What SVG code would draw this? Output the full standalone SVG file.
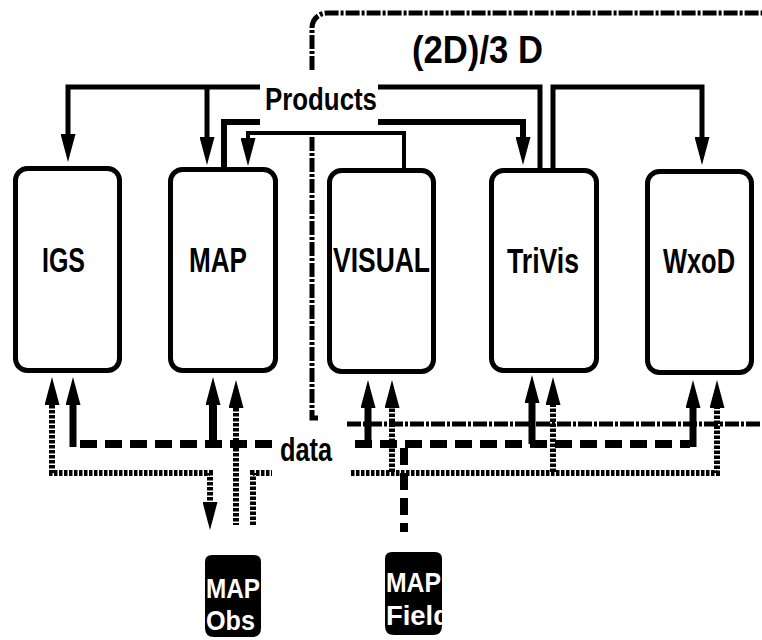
<svg xmlns="http://www.w3.org/2000/svg" width="762" height="640" viewBox="0 0 762 640">
<style>
.box{fill:#fff;stroke:#000;stroke-width:5}
.lbl{font-family:"Liberation Sans",Arial,sans-serif;font-weight:bold;fill:#000}
.wl{font-family:"Liberation Sans",Arial,sans-serif;font-weight:bold;fill:#fff}
.ln{fill:none;stroke:#000;stroke-linejoin:miter}
.dash{fill:none;stroke:#000;stroke-width:8;stroke-dasharray:17 8}
.dot{fill:none;stroke:#000;stroke-width:6;stroke-dasharray:3.5 1.5}
.dd{fill:none;stroke:#000;stroke-width:5;stroke-dasharray:14 2 3 2}
</style>
<defs>
<marker id="ah" viewBox="0 0 28 15" refX="0" refY="7.5" markerWidth="28" markerHeight="15" markerUnits="userSpaceOnUse" orient="auto-start-reverse">
<path d="M0,0 L28,7.5 L0,15 Z" fill="#000"/>
</marker>
<clipPath id="cf"><path d="M385,559 Q385,552 392,552 H435 Q442,552 442,559 V626 Q442,635 433,635 H394 Q385,635 385,626 Z"/></clipPath>
</defs>

<g id="connectors">
<!-- dash-dot region -->
<path class="dd" d="M312,70 V28 A15,15 0 0 1 327,13 H762"/>
<path class="dd" d="M312,137 V418 h6"/>
<path class="dd" d="M347,424 H762"/>
<!-- products -->
<path class="ln" stroke-width="5" d="M540,168 V87 H68 V134" marker-end="url(#ah)"/>
<path class="ln" stroke-width="5" d="M207,87 V137" marker-end="url(#ah)"/>
<path class="ln" stroke-width="6" d="M224,167 V122 H523 V137" marker-end="url(#ah)"/>
<path class="ln" stroke-width="4" d="M404,168 V133 H248 V138" marker-end="url(#ah)"/>
<path class="ln" stroke-width="5" d="M553,168 V87 H702 V137" marker-end="url(#ah)"/>
<!-- data: solid stems -->
<path class="ln" stroke-width="7" d="M73,447 V405" marker-end="url(#ah)"/>
<path class="ln" stroke-width="8" d="M213,444 V405" marker-end="url(#ah)"/>
<path class="ln" stroke-width="7" d="M368,444 V408" marker-end="url(#ah)"/>
<path class="ln" stroke-width="7" d="M532,444 V403" marker-end="url(#ah)"/>
<path class="ln" stroke-width="7" d="M693,447 V408" marker-end="url(#ah)"/>
<!-- dashed bus -->
<path class="dash" d="M80,444 H690"/>
<path class="dash" stroke-width="7" d="M404,448 V532"/>
<!-- dotted -->
<path class="dot" d="M52,405 V473 H210 V502" marker-start="url(#ah)" marker-end="url(#ah)"/>
<path class="dot" d="M236,408 V525" marker-start="url(#ah)"/>
<path class="dot" d="M253,525 V473 H717 V408" marker-end="url(#ah)"/>
<path class="dot" d="M392,472 V408" marker-end="url(#ah)"/>
<path class="dot" d="M553,472 V405" marker-end="url(#ah)"/>
</g>

<g id="products-label">
<rect x="260" y="74" width="118" height="54" fill="#fff"/>
<text class="lbl" x="265" y="110" font-size="31" textLength="112" lengthAdjust="spacingAndGlyphs">Products</text>
</g>
<g id="data-label">
<rect x="272" y="430" width="78" height="48" fill="#fff"/>
<text class="lbl" x="280" y="461" font-size="33" textLength="52" lengthAdjust="spacingAndGlyphs">data</text>
</g>
<g id="dim-label">
<text class="lbl" x="412" y="63" font-size="39" textLength="131" lengthAdjust="spacingAndGlyphs">(2D)/3 D</text>
</g>

<g id="IGS">
<rect class="box" x="15.5" y="168.5" width="104" height="202" rx="12"/>
<text class="lbl" x="42" y="272" font-size="35" textLength="43" lengthAdjust="spacingAndGlyphs">IGS</text>
</g>
<g id="MAP">
<rect class="box" x="170.5" y="169.5" width="105" height="201" rx="12"/>
<text class="lbl" x="189" y="272" font-size="35" textLength="58" lengthAdjust="spacingAndGlyphs">MAP</text>
</g>
<g id="VISUAL">
<rect class="box" x="329.5" y="170.5" width="104" height="201" rx="12"/>
<text class="lbl" x="333" y="272" font-size="35" textLength="97" lengthAdjust="spacingAndGlyphs">VISUAL</text>
</g>
<g id="TriVis">
<rect class="box" x="491.5" y="170.5" width="105" height="200" rx="12"/>
<text class="lbl" x="507" y="273" font-size="35" textLength="72" lengthAdjust="spacingAndGlyphs">TriVis</text>
</g>
<g id="WxoD">
<rect class="box" x="647.5" y="171.5" width="104" height="201" rx="12"/>
<text class="lbl" x="663" y="273" font-size="35" textLength="72" lengthAdjust="spacingAndGlyphs">WxoD</text>
</g>

<g id="MAP-Obs">
<path d="M205,562 Q205,555 212,555 H254 Q261,555 261,562 V628 Q261,637 252,637 H214 Q205,637 205,628 Z" fill="#000"/>
<text class="wl" x="206" y="598" font-size="28" textLength="54" lengthAdjust="spacingAndGlyphs">MAP</text>
<text class="wl" x="206" y="630" font-size="28" textLength="49" lengthAdjust="spacingAndGlyphs">Obs</text>
</g>
<g id="MAP-Field">
<path d="M385,559 Q385,552 392,552 H435 Q442,552 442,559 V626 Q442,635 433,635 H394 Q385,635 385,626 Z" fill="#000"/>
<text class="wl" x="386" y="592" font-size="28" textLength="55" lengthAdjust="spacingAndGlyphs">MAP</text>
<text class="wl" x="386" y="625" font-size="28" textLength="64" lengthAdjust="spacingAndGlyphs" clip-path="url(#cf)">Field</text>
</g>
</svg>
